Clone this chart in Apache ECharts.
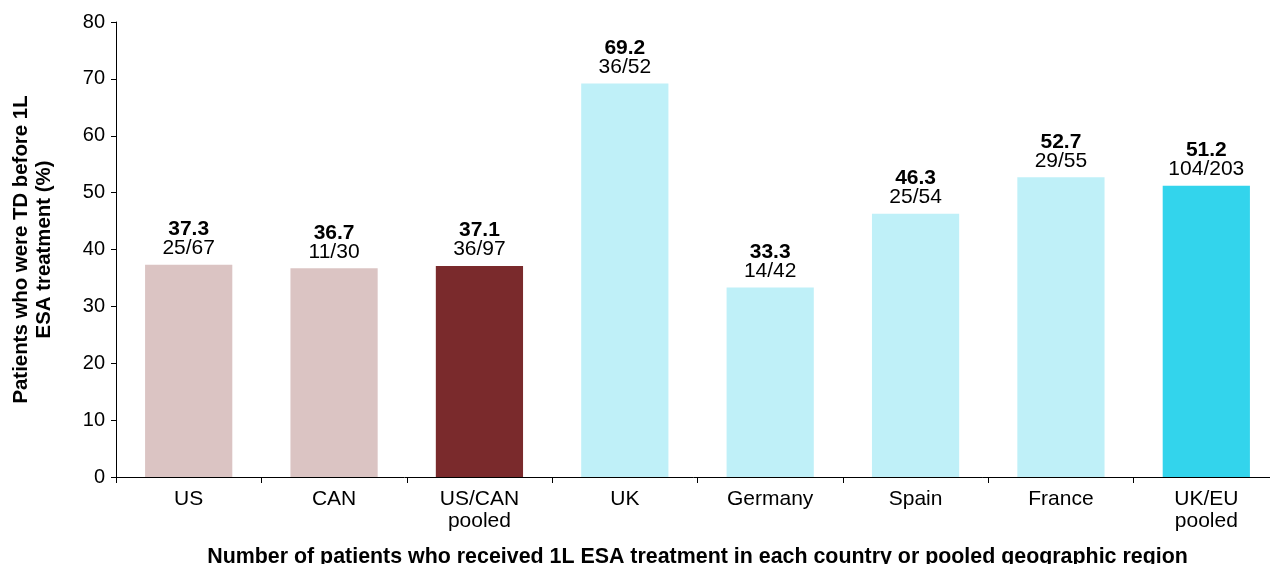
<!DOCTYPE html>
<html>
<head>
<meta charset="utf-8">
<title>Patients who were TD before 1L ESA treatment</title>
<script src="https://cdn.jsdelivr.net/npm/echarts@6/dist/echarts.min.js"></script>
<style>
  html, body { margin: 0; padding: 0; background: #fff; }
  #chart { width: 1270px; height: 564px; }
</style>
</head>
<body>
<div id="chart"></div>
<script>
// Country / pooled region categories
const categories = ['US', 'CAN', 'US/CAN\npooled', 'UK', 'Germany', 'Spain', 'France', 'UK/EU\npooled'];
// Share of patients transfusion-dependent before 1L ESA (%)
const percentValues = [37.3, 36.7, 37.1, 69.2, 33.3, 46.3, 52.7, 51.2];
// Patient counts behind each percentage
const numerators = [25, 11, 36, 36, 14, 25, 29, 104];
const denominators = [67, 30, 97, 52, 42, 54, 55, 203];
// Bar fill per category
const barColors = ['#dbc4c3', '#dbc4c3', '#7a2a2c', '#bff0f8', '#bff0f8', '#bff0f8', '#bff0f8', '#33d4ec'];
// Y axis range
const yMin = 0, yMax = 80, yStep = 10;

const FONT = '"Liberation Sans", Arial, Helvetica, sans-serif';

const chart = echarts.init(document.getElementById('chart'), null, { renderer: 'canvas' });

chart.setOption({
  animation: false,
  backgroundColor: '#ffffff',
  // plot area runs slightly past the right edge of the canvas
  grid: { left: 116, top: 22, width: 1163, height: 455, containLabel: false, outerBoundsMode: 'none' },
  xAxis: {
    type: 'category',
    data: categories,
    name: 'Number of patients who received 1L ESA treatment in each country or pooled geographic region',
    nameLocation: 'middle',
    nameGap: 70,
    nameTextStyle: { fontFamily: FONT, fontSize: 21.4, fontWeight: 'bold', color: '#000', verticalAlign: 'top' },
    axisLine: { lineStyle: { color: '#000', width: 1 } },
    axisTick: { show: true, length: 6, lineStyle: { color: '#000' } },
    axisLabel: { fontFamily: FONT, fontSize: 21, color: '#000', margin: 11, lineHeight: 22 }
  },
  yAxis: {
    type: 'value',
    min: yMin,
    max: yMax,
    interval: yStep,
    name: 'Patients who were TD before 1L\nESA treatment (%)',
    nameLocation: 'middle',
    nameGap: 60,
    nameRotate: 90,
    nameTextStyle: { fontFamily: FONT, fontSize: 20.4, fontWeight: 'bold', color: '#000', lineHeight: 23 },
    axisLine: { show: true, lineStyle: { color: '#000', width: 1 } },
    axisTick: { show: true, length: 5, lineStyle: { color: '#000' } },
    axisLabel: { fontFamily: FONT, fontSize: 20, color: '#000', margin: 11 },
    splitLine: { show: false }
  },
  series: [{
    type: 'bar',
    barCategoryGap: '40%',
    data: percentValues.map((v, i) => ({
      value: v,
      itemStyle: { color: barColors[i] },
      label: { formatter: '{v|' + v.toFixed(1) + '}\n{n|' + numerators[i] + '/' + denominators[i] + '}' }
    })),
    label: {
      show: true,
      position: 'top',
      distance: 7,
      align: 'center',
      rich: {
        v: { fontFamily: FONT, fontSize: 21, fontWeight: 'bold', color: '#000', lineHeight: 19, align: 'center' },
        n: { fontFamily: FONT, fontSize: 21, color: '#000', lineHeight: 19, align: 'center' }
      }
    }
  }]
});
</script>
</body>
</html>
